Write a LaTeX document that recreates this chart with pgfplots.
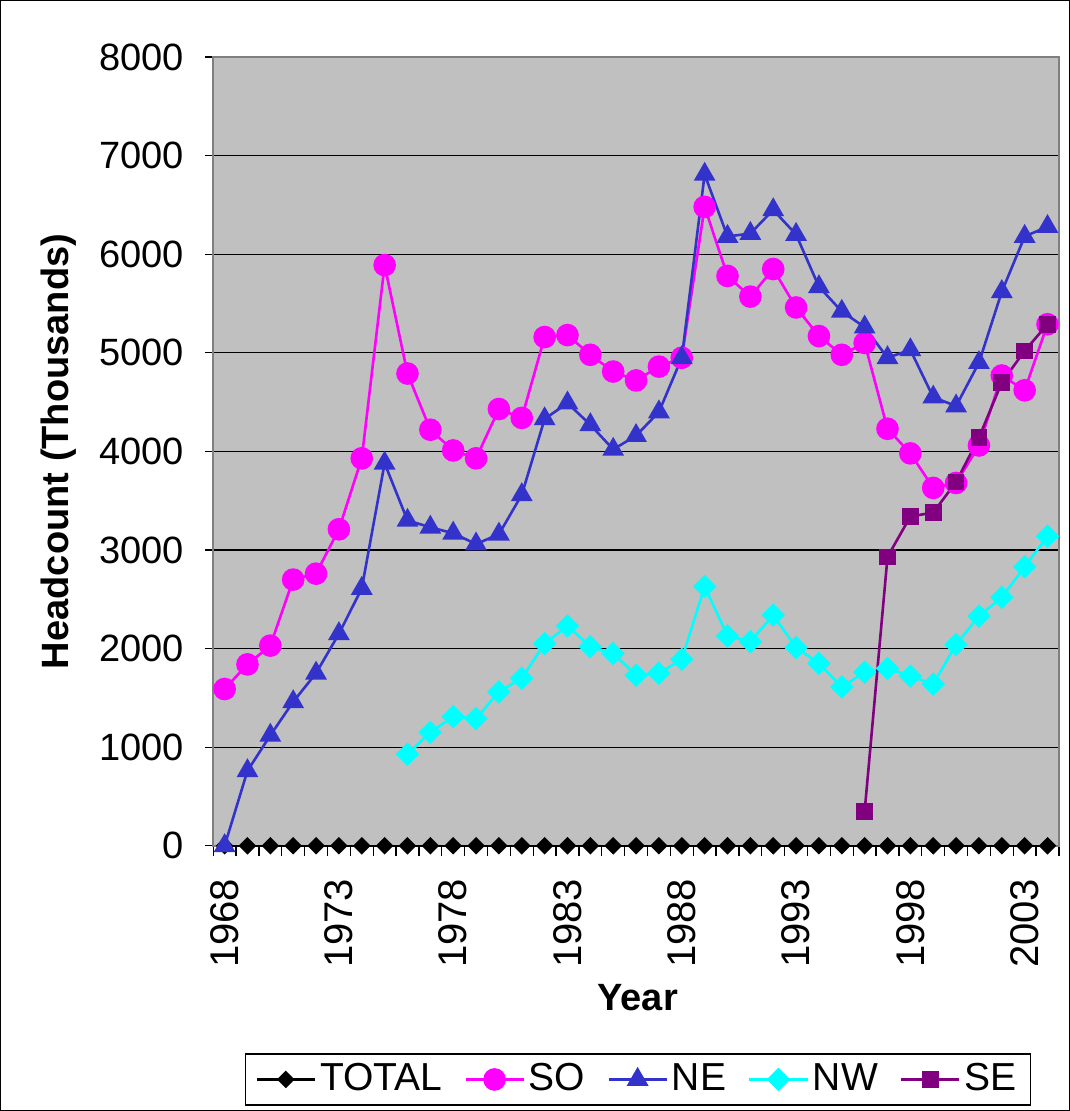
\documentclass[border=0pt]{standalone}
\usepackage{fontspec}
\setmainfont{Liberation Sans}
\usepackage{pgfplots}
\usepackage{pgfplotstable}
\pgfplotsset{compat=1.18}

\definecolor{bggray}{HTML}{C0C0C0}
\definecolor{soc}{HTML}{FF00FF}
\definecolor{nec}{HTML}{3333CC}
\definecolor{nwc}{HTML}{00FFFF}
\definecolor{sec}{HTML}{800080}

% headcount in thousands, nan = no data
\pgfplotstableread{
year total so ne nw se
1968 0 1590 0 nan nan
1969 0 1840 760 nan nan
1970 0 2030 1120 nan nan
1971 0 2700 1460 nan nan
1972 0 2760 1750 nan nan
1973 0 3210 2150 nan nan
1974 0 3930 2610 nan nan
1975 0 5890 3880 nan nan
1976 0 4790 3300 930 nan
1977 0 4220 3230 1150 nan
1978 0 4010 3170 1310 nan
1979 0 3930 3060 1290 nan
1980 0 4430 3160 1560 nan
1981 0 4340 3560 1700 nan
1982 0 5160 4330 2050 nan
1983 0 5180 4490 2230 nan
1984 0 4980 4270 2020 nan
1985 0 4810 4020 1950 nan
1986 0 4720 4160 1730 nan
1987 0 4860 4400 1750 nan
1988 0 4950 4950 1890 nan
1989 0 6480 6810 2630 nan
1990 0 5780 6180 2130 nan
1991 0 5570 6210 2070 nan
1992 0 5850 6450 2340 nan
1993 0 5460 6200 2010 nan
1994 0 5170 5670 1850 nan
1995 0 4980 5420 1610 nan
1996 0 5100 5260 1760 350
1997 0 4230 4950 1800 2930
1998 0 3980 5030 1720 3340
1999 0 3630 4550 1640 3380
2000 0 3680 4460 2040 3690
2001 0 4060 4900 2330 4140
2002 0 4770 5620 2520 4700
2003 0 4620 6180 2830 5020
2004 0 5290 6280 3140 5290
}\datatable

\begin{document}
\fontsize{19}{22}\selectfont
\begin{tikzpicture}
\begin{axis}[
    at={(0pt,0pt)}, anchor=south west,
    scale only axis,
    width=422.5pt, height=394pt,
    xmin=1967.5, xmax=2004.5,
    ymin=0, ymax=8000,
    clip=false,
    axis background/.style={fill=bggray},
    axis line style={draw=gray, line width=0.8pt},
    ytick={0,1000,...,8000},
    xtick={1968,1973,...,2003},
    minor xtick={1967.5,1968.5,...,2004.5},
    major x tick style={draw=none},
    tick pos=left,
    tick align=outside,
    major tick length=4pt,
    minor tick length=5pt,
    tick style={black, line width=0.6pt},
    ymajorgrids,
    major grid style={black, line width=0.6pt},
    tick label style={font=\fontsize{19}{22}\selectfont},
    xticklabel style={rotate=90, anchor=east, font=\fontsize{20}{23}\selectfont},
    /pgf/number format/assume math mode=true,
    /pgf/number format/1000 sep={},
    xticklabel shift=6pt,
    yticklabel shift=4pt,
    xlabel={\textbf{Year}},
    ylabel={\textbf{Headcount (Thousands)}},
    xlabel style={at={(axis description cs:0.502,-0.193)}, anchor=center, font=\fontsize{19}{22}\selectfont},
    ylabel style={at={(axis description cs:-0.183,0.5)}, anchor=center, font=\fontsize{19}{22}\selectfont},
    legend columns=5,
    legend style={at={(axis description cs:0.5024,-0.2963)}, anchor=center,
        draw=black, line width=0.6pt, font=\fontsize{19.5}{22}\selectfont,
        inner xsep=5pt, inner ysep=2.5pt,
        /tikz/every even column/.append style={column sep=9pt}},
    legend image code/.code={\draw[mark repeat=2,mark phase=2] plot coordinates {(0pt,0pt) (14.5pt,0pt) (29pt,0pt)};},
]
\addplot[black, line width=1.2pt, mark=square*, mark size=2.5pt, mark options={rotate=45}] table[x=year, y=total] {\datatable};
\addlegendentry{TOTAL}
\addplot[soc, line width=1.3pt, mark=*, mark size=5pt] table[x=year, y=so] {\datatable};
\addlegendentry{SO}
\addplot[nec, line width=1.3pt, mark=triangle*, mark size=5pt] table[x=year, y=ne] {\datatable};
\addlegendentry{NE}
\addplot[nwc, line width=1.3pt, mark=square*, mark size=3.5pt, mark options={rotate=45}] table[x=year, y=nw] {\datatable};
\addlegendentry{NW}
\addplot[sec, line width=1.3pt, mark=square*, mark size=3.5pt] table[x=year, y=se] {\datatable};
\addlegendentry{SE}
\end{axis}
\draw[black, line width=0.5pt] (-106.25pt,-132.25pt) rectangle (427.75pt,422.25pt);
\pgfresetboundingbox
\useasboundingbox (-106.5pt,-132.5pt) rectangle (428pt,422.5pt);
\end{tikzpicture}
\end{document}
